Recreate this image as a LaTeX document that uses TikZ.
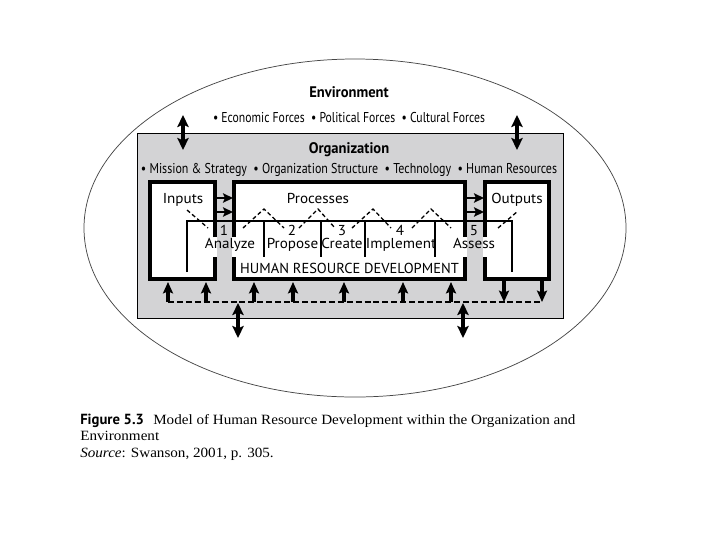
\documentclass[tikz,border=0pt]{standalone}
\usepackage{fontspec}
\setmainfont{Liberation Serif}[FakeStretch=1.07]
\setsansfont{PT Sans}
\newfontfamily\condfont{PT Sans}[FakeStretch=0.82]
\newfontfamily\condfontB{PT Sans}[FakeStretch=0.84]
\newfontfamily\titlefont{PT Sans}[FakeStretch=0.95]
\newfontfamily\labfont{PT Sans}[FakeStretch=1.05]
\usetikzlibrary{arrows.meta}
\definecolor{orggray}{RGB}{211,211,213}
\definecolor{ellgray}{RGB}{70,70,70}
\begin{document}
\begin{tikzpicture}[x=0.75pt,y=-0.75pt,
  thickbox/.style={line width=3pt},
  hrdline/.style={line width=1.5pt},
  zig/.style={line width=1pt, dash pattern=on 3pt off 2pt},
  fbline/.style={line width=1.5pt, dash pattern=on 4.5pt off 2.2pt},
  flowarr/.style={line width=1.8pt, -{Stealth[length=7.5pt,width=7pt,inset=1.5pt]}},
  uparr/.style={line width=2.5pt, -{Stealth[length=8.5pt,width=7.5pt,inset=1.5pt]}},
  dblarr/.style={line width=2.8pt, {Stealth[length=9pt,width=8.5pt,inset=1.8pt]}-{Stealth[length=9pt,width=8.5pt,inset=1.8pt]}},
  toptxt/.style={font=\condfont\fontsize{10.7}{12}\selectfont, inner sep=0pt, anchor=base},
  toptxtB/.style={font=\condfontB\fontsize{10.7}{12}\selectfont, inner sep=0pt, anchor=base},
  topbold/.style={font=\titlefont\bfseries\fontsize{11.5}{13}\selectfont, inner sep=0pt, anchor=base},
  lab/.style={font=\labfont\fontsize{10.8}{12}\selectfont, inner sep=0pt, anchor=base},
  hrdlab/.style={font=\sffamily\fontsize{10.85}{12}\selectfont, inner sep=0pt, anchor=base},
  caption/.style={font=\fontsize{10.6}{12}\selectfont, inner sep=0pt, anchor=base west}
]
\useasboundingbox (0,0) rectangle (720,540);
\fill[white] (0,0) rectangle (720,540);

% environment ellipse
\draw[ellgray, line width=0.55pt] (355,228) ellipse [x radius=271, y radius=169];

% organization box
\draw[fill=orggray, line width=0.6pt] (137,133) rectangle (563,318);

% text
\node[topbold] (env) at (349,97) {Environment};
\node[toptxt] (envforces) at (349,122) {\textbullet\ Economic Forces \ \textbullet\ Political Forces \ \textbullet\ Cultural Forces};
\node[topbold] (org) at (349,153) {Organization};
\node[toptxtB] (orgforces) at (349,173) {\textbullet\ Mission \& Strategy \ \textbullet\ Organization Structure \ \textbullet\ Technology \ \textbullet\ Human Resources};

% env <-> org arrows
\coordinate (tl1) at (183,115); \coordinate (tl2) at (183,150);
\coordinate (tr1) at (517,115); \coordinate (tr2) at (517,150);
\draw[dblarr] (tl1) -- (tl2);
\draw[dblarr] (tr1) -- (tr2);

% box fills
\fill[white] (148,180) rectangle (217,281);
\fill[white] (232,180) rectangle (467,281);
\fill[white] (483,180) rectangle (551,281);

% box borders with gaps
\draw[thickbox] (215,237) -- (215,182) -- (150,182) -- (150,279) -- (215,279) -- (215,257);
\draw[thickbox] (234,237) -- (234,182) -- (465,182) -- (465,237);
\draw[thickbox] (234,257) -- (234,279) -- (465,279) -- (465,257);
\draw[thickbox] (485,237) -- (485,182) -- (549,182) -- (549,279) -- (485,279) -- (485,257);

% HRD frame
\draw[hrdline] (187,272) -- (187,221) -- (512,221) -- (512,272);
\foreach \x in {264,321,365,435} \draw[hrdline] (\x,221) -- (\x,257);

% labels
\node[lab] (inputs) at (183,203) {Inputs};
\node[lab] (processes) at (318,203) {Processes};
\node[lab] (outputs) at (517,203) {Outputs};
\node[lab] (n1) at (224,235) {1};
\node[lab] (n2) at (292,235) {2};
\node[lab] (n3) at (342,235) {3};
\node[lab] (n4) at (400,235) {4};
\node[lab] (n5) at (474,235) {5};
\node[lab] (s1) at (230,248) {Analyze};
\node[lab] (s2) at (292.5,248) {Propose};
\node[lab] (s3) at (342,248) {Create};
\node[lab] (s4) at (401,248) {Implement};
\node[lab] (s5) at (474,248) {Assess};
\node[hrdlab] (hrd) at (349.5,273) {HUMAN RESOURCE DEVELOPMENT};

% flow arrows between boxes
\coordinate (ia1) at (216,198); \coordinate (pa1) at (233,198);
\coordinate (ia2) at (216,212); \coordinate (pa2) at (233,212);
\coordinate (pb1) at (466,198); \coordinate (oa1) at (484,198);
\coordinate (pb2) at (466,212); \coordinate (oa2) at (484,212);
\draw[flowarr] (ia1) -- (pa1);
\draw[flowarr] (ia2) -- (pa2);
\draw[flowarr] (pb1) -- (oa1);
\draw[flowarr] (pb2) -- (oa2);

% dashed zigzag
\draw[zig] (187,210) -- (208,228);
\draw[zig] (243,228) -- (264,209) -- (284,228);
\draw[zig] (299,228) -- (318,209) -- (335,228);
\draw[zig] (352,228) -- (373,209) -- (391,228);
\draw[zig] (412,228) -- (431,209) -- (451,228);
\draw[zig] (498,228) -- (518,211);

% feedback dashed line
\coordinate (fbL) at (168,302); \coordinate (fbR) at (542,302);
\draw[fbline] (fbL) -- (fbR);
\foreach \x [count=\i] in {168,206,254,293,344,403,451} {
  \coordinate (fu\i) at (\x,302); \coordinate (bu\i) at (\x,282);
  \draw[uparr] (fu\i) -- (bu\i);
}
\foreach \x [count=\i] in {504,542} {
  \coordinate (od\i) at (\x,281); \coordinate (fd\i) at (\x,302);
  \draw[uparr] (od\i) -- (fd\i);
}

% org <-> env bottom arrows
\coordinate (bl1) at (238,303); \coordinate (bl2) at (238,338);
\coordinate (br1) at (463,303); \coordinate (br2) at (463,338);
\draw[dblarr] (bl1) -- (bl2);
\draw[dblarr] (br1) -- (br2);

% caption
\node[caption] (cap1) at (80,424) {{\sffamily\bfseries\fontsize{11}{12}\selectfont Figure 5.3}\hspace{7pt}Model of Human Resource Development within the Organization and};
\node[caption] (cap2) at (80,440) {Environment};
\node[caption] (cap3) at (80,457) {\textit{Source}: Swanson, 2001, p. 305.};
\end{tikzpicture}
\end{document}
